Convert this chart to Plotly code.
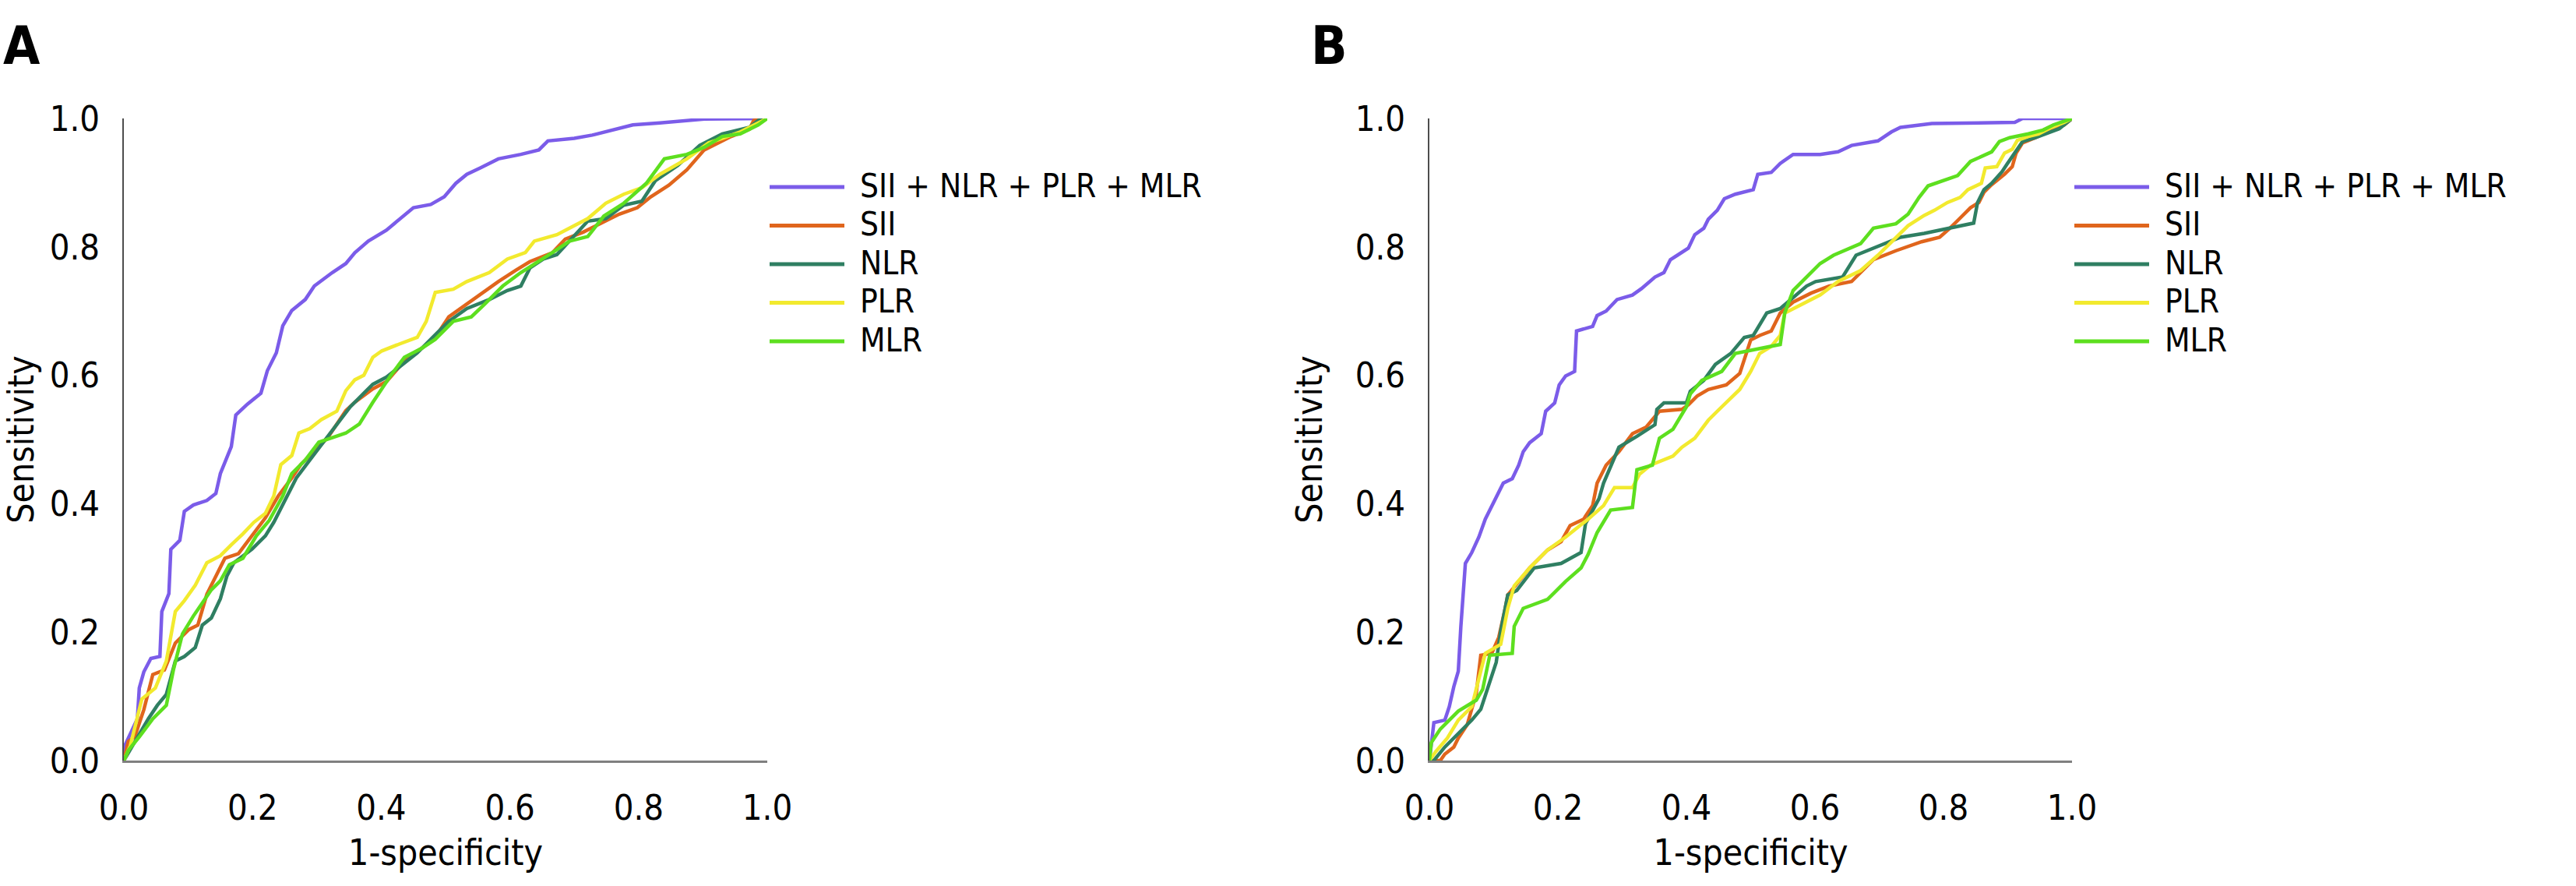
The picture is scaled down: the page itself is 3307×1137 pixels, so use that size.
import plotly.graph_objects as go

# ---------------- data ----------------
SERIES_NAMES = ["SII + NLR + PLR + MLR", "SII", "NLR", "PLR", "MLR"]
SERIES_COLORS = ["#7b5ce9", "#e0651c", "#2f7f62", "#f2ea2e", "#5ddf1f"]
TICK_VALUES = [0.0, 0.2, 0.4, 0.6, 0.8, 1.0]
TICK_LABELS = ["0.0", "0.2", "0.4", "0.6", "0.8", "1.0"]
PANEL_LABELS = ["A", "B"]
X_TITLE = "1-specificity"
Y_TITLE = "Sensitivity"

# Panel A
A_COMB_X = [0, 0.0, 0.021, 0.024, 0.031, 0.042, 0.056, 0.059, 0.07, 0.073, 0.087, 0.094, 0.108, 0.129, 0.143, 0.150, 0.167, 0.174, 0.192, 0.213, 0.223, 0.237, 0.247, 0.261, 0.282, 0.296, 0.324, 0.345, 0.359, 0.380, 0.408, 0.429, 0.450, 0.477, 0.498, 0.516, 0.533, 0.554, 0.582, 0.617, 0.645, 0.659, 0.700, 0.728, 0.763, 0.791, 0.833, 0.902, 1.0]
A_COMB_Y = [0, 0.02, 0.065, 0.113, 0.138, 0.159, 0.162, 0.232, 0.26, 0.329, 0.343, 0.388, 0.398, 0.405, 0.416, 0.447, 0.489, 0.538, 0.555, 0.572, 0.607, 0.635, 0.677, 0.701, 0.718, 0.739, 0.760, 0.774, 0.791, 0.809, 0.826, 0.844, 0.861, 0.866, 0.878, 0.899, 0.913, 0.923, 0.937, 0.944, 0.951, 0.965, 0.969, 0.974, 0.983, 0.990, 0.993, 0.999, 1.0]

A_SII_X = [0, 0.007, 0.017, 0.031, 0.045, 0.063, 0.080, 0.101, 0.115, 0.129, 0.143, 0.157, 0.178, 0.199, 0.220, 0.240, 0.261, 0.275, 0.303, 0.317, 0.345, 0.359, 0.387, 0.408, 0.429, 0.446, 0.463, 0.484, 0.505, 0.533, 0.554, 0.582, 0.610, 0.631, 0.666, 0.686, 0.714, 0.742, 0.770, 0.798, 0.819, 0.847, 0.875, 0.902, 0.944, 0.972, 0.979, 1.0]
A_SII_Y = [0, 0.03, 0.037, 0.079, 0.134, 0.141, 0.183, 0.204, 0.211, 0.259, 0.287, 0.315, 0.322, 0.350, 0.378, 0.412, 0.440, 0.461, 0.489, 0.503, 0.545, 0.558, 0.579, 0.590, 0.614, 0.632, 0.642, 0.659, 0.691, 0.711, 0.725, 0.746, 0.764, 0.777, 0.791, 0.812, 0.823, 0.837, 0.851, 0.861, 0.878, 0.896, 0.920, 0.951, 0.972, 0.983, 0.997, 1.0]

A_NLR_X = [0, 0.017, 0.038, 0.052, 0.066, 0.080, 0.094, 0.111, 0.122, 0.136, 0.150, 0.160, 0.171, 0.199, 0.220, 0.233, 0.251, 0.268, 0.289, 0.310, 0.331, 0.352, 0.373, 0.387, 0.408, 0.429, 0.456, 0.484, 0.505, 0.533, 0.568, 0.596, 0.617, 0.631, 0.652, 0.673, 0.693, 0.721, 0.749, 0.777, 0.805, 0.826, 0.861, 0.895, 0.930, 0.972, 0.986, 1.0]
A_NLR_Y = [0, 0.03, 0.065, 0.086, 0.103, 0.155, 0.162, 0.176, 0.211, 0.222, 0.252, 0.287, 0.308, 0.329, 0.350, 0.371, 0.405, 0.440, 0.468, 0.496, 0.524, 0.551, 0.572, 0.586, 0.597, 0.614, 0.635, 0.663, 0.684, 0.704, 0.718, 0.732, 0.739, 0.767, 0.781, 0.788, 0.809, 0.840, 0.844, 0.865, 0.871, 0.903, 0.927, 0.958, 0.976, 0.986, 0.997, 1.0]

A_PLR_X = [0, 0.010, 0.028, 0.049, 0.066, 0.080, 0.094, 0.111, 0.129, 0.150, 0.167, 0.185, 0.202, 0.220, 0.233, 0.244, 0.261, 0.272, 0.289, 0.307, 0.331, 0.345, 0.359, 0.373, 0.387, 0.401, 0.429, 0.456, 0.470, 0.484, 0.512, 0.533, 0.568, 0.596, 0.624, 0.638, 0.673, 0.697, 0.721, 0.749, 0.777, 0.805, 0.833, 0.875, 0.909, 0.930, 0.958, 1.0]
A_PLR_Y = [0, 0.023, 0.096, 0.113, 0.155, 0.232, 0.249, 0.273, 0.308, 0.319, 0.336, 0.353, 0.371, 0.385, 0.412, 0.461, 0.475, 0.510, 0.517, 0.531, 0.544, 0.576, 0.593, 0.600, 0.628, 0.638, 0.649, 0.659, 0.684, 0.729, 0.734, 0.746, 0.760, 0.781, 0.791, 0.809, 0.819, 0.831, 0.844, 0.868, 0.882, 0.892, 0.913, 0.937, 0.962, 0.969, 0.979, 1.0]

A_MLR_X = [0, 0.007, 0.024, 0.045, 0.066, 0.077, 0.091, 0.108, 0.136, 0.150, 0.164, 0.185, 0.206, 0.226, 0.247, 0.261, 0.282, 0.303, 0.324, 0.345, 0.366, 0.387, 0.415, 0.436, 0.463, 0.484, 0.512, 0.540, 0.561, 0.589, 0.617, 0.645, 0.666, 0.693, 0.721, 0.746, 0.777, 0.812, 0.840, 0.875, 0.902, 0.930, 0.958, 0.986, 1.0]
A_MLR_Y = [0, 0.016, 0.037, 0.065, 0.086, 0.141, 0.197, 0.225, 0.266, 0.280, 0.305, 0.315, 0.350, 0.374, 0.412, 0.447, 0.468, 0.496, 0.503, 0.510, 0.524, 0.558, 0.600, 0.628, 0.642, 0.656, 0.684, 0.691, 0.711, 0.739, 0.760, 0.777, 0.791, 0.809, 0.816, 0.848, 0.868, 0.899, 0.937, 0.944, 0.955, 0.972, 0.976, 0.990, 1.0]

# Panel B
B_COMB_X = [0, 0.003, 0.007, 0.024, 0.031, 0.038, 0.045, 0.049, 0.056, 0.066, 0.077, 0.087, 0.097, 0.108, 0.115, 0.129, 0.139, 0.146, 0.156, 0.174, 0.181, 0.195, 0.202, 0.212, 0.226, 0.229, 0.254, 0.261, 0.275, 0.292, 0.316, 0.330, 0.351, 0.365, 0.375, 0.386, 0.403, 0.413, 0.427, 0.434, 0.448, 0.459, 0.476, 0.504, 0.511, 0.532, 0.546, 0.566, 0.608, 0.636, 0.657, 0.698, 0.719, 0.733, 0.782, 0.911, 0.923, 1.0]
B_COMB_Y = [0, 0.031, 0.059, 0.063, 0.084, 0.115, 0.139, 0.209, 0.307, 0.324, 0.348, 0.376, 0.397, 0.418, 0.432, 0.439, 0.460, 0.481, 0.495, 0.509, 0.544, 0.557, 0.585, 0.599, 0.606, 0.669, 0.676, 0.693, 0.700, 0.718, 0.725, 0.735, 0.753, 0.760, 0.780, 0.787, 0.798, 0.819, 0.829, 0.843, 0.857, 0.875, 0.882, 0.889, 0.913, 0.916, 0.930, 0.944, 0.944, 0.948, 0.958, 0.965, 0.979, 0.986, 0.992, 0.994, 1.0, 1.0]

B_SII_X = [0, 0.017, 0.024, 0.038, 0.045, 0.059, 0.073, 0.080, 0.097, 0.108, 0.118, 0.122, 0.136, 0.156, 0.184, 0.205, 0.219, 0.240, 0.254, 0.261, 0.275, 0.295, 0.316, 0.337, 0.358, 0.393, 0.403, 0.417, 0.434, 0.462, 0.483, 0.500, 0.514, 0.532, 0.546, 0.566, 0.594, 0.622, 0.657, 0.671, 0.691, 0.726, 0.745, 0.766, 0.794, 0.810, 0.826, 0.842, 0.855, 0.863, 0.875, 0.895, 0.907, 0.913, 0.923, 0.943, 0.968, 0.988, 1.0]
B_SII_Y = [0, 0.0, 0.010, 0.021, 0.035, 0.056, 0.105, 0.164, 0.167, 0.192, 0.237, 0.258, 0.275, 0.300, 0.328, 0.341, 0.366, 0.376, 0.397, 0.432, 0.460, 0.481, 0.509, 0.519, 0.544, 0.547, 0.554, 0.568, 0.578, 0.585, 0.603, 0.655, 0.662, 0.669, 0.697, 0.714, 0.728, 0.739, 0.746, 0.760, 0.780, 0.794, 0.800, 0.808, 0.815, 0.829, 0.845, 0.861, 0.869, 0.885, 0.897, 0.913, 0.925, 0.946, 0.962, 0.970, 0.982, 0.990, 1.0]

B_NLR_X = [0, 0.007, 0.024, 0.045, 0.066, 0.080, 0.097, 0.104, 0.111, 0.122, 0.136, 0.163, 0.205, 0.236, 0.243, 0.264, 0.271, 0.295, 0.323, 0.351, 0.354, 0.365, 0.400, 0.406, 0.427, 0.445, 0.469, 0.490, 0.504, 0.525, 0.546, 0.566, 0.587, 0.601, 0.643, 0.664, 0.698, 0.733, 0.770, 0.799, 0.826, 0.847, 0.853, 0.863, 0.875, 0.891, 0.899, 0.911, 0.923, 0.943, 0.960, 0.980, 1.0]
B_NLR_Y = [0, 0.0, 0.021, 0.042, 0.063, 0.080, 0.132, 0.153, 0.202, 0.258, 0.265, 0.300, 0.307, 0.324, 0.369, 0.408, 0.432, 0.488, 0.505, 0.523, 0.547, 0.557, 0.557, 0.575, 0.592, 0.617, 0.634, 0.659, 0.662, 0.697, 0.704, 0.721, 0.739, 0.746, 0.753, 0.787, 0.801, 0.815, 0.821, 0.827, 0.833, 0.837, 0.869, 0.889, 0.899, 0.917, 0.929, 0.946, 0.964, 0.970, 0.976, 0.984, 1.0]

B_PLR_X = [0, 0.010, 0.028, 0.045, 0.066, 0.087, 0.111, 0.122, 0.132, 0.156, 0.184, 0.212, 0.247, 0.271, 0.288, 0.316, 0.327, 0.344, 0.379, 0.393, 0.413, 0.434, 0.448, 0.462, 0.483, 0.500, 0.514, 0.532, 0.546, 0.553, 0.580, 0.608, 0.636, 0.671, 0.698, 0.726, 0.745, 0.770, 0.786, 0.806, 0.826, 0.838, 0.859, 0.865, 0.883, 0.895, 0.907, 0.915, 0.932, 0.948, 0.968, 0.988, 1.0]
B_PLR_Y = [0, 0.014, 0.035, 0.063, 0.084, 0.167, 0.181, 0.237, 0.272, 0.300, 0.328, 0.348, 0.376, 0.397, 0.425, 0.425, 0.446, 0.460, 0.474, 0.488, 0.502, 0.530, 0.544, 0.557, 0.578, 0.606, 0.634, 0.645, 0.662, 0.697, 0.711, 0.725, 0.746, 0.763, 0.787, 0.815, 0.833, 0.849, 0.857, 0.869, 0.877, 0.889, 0.899, 0.923, 0.925, 0.946, 0.952, 0.966, 0.972, 0.976, 0.986, 0.994, 1.0]

B_MLR_X = [0, 0.003, 0.017, 0.045, 0.073, 0.083, 0.094, 0.129, 0.132, 0.146, 0.184, 0.212, 0.236, 0.247, 0.261, 0.282, 0.316, 0.323, 0.347, 0.358, 0.379, 0.400, 0.406, 0.424, 0.455, 0.476, 0.546, 0.553, 0.566, 0.587, 0.608, 0.629, 0.671, 0.691, 0.726, 0.745, 0.762, 0.776, 0.794, 0.822, 0.842, 0.859, 0.875, 0.887, 0.903, 0.932, 0.955, 0.971, 0.988, 1.0]
B_MLR_Y = [0, 0.028, 0.049, 0.077, 0.094, 0.111, 0.164, 0.167, 0.209, 0.237, 0.251, 0.279, 0.300, 0.321, 0.355, 0.390, 0.394, 0.453, 0.460, 0.502, 0.516, 0.551, 0.571, 0.592, 0.606, 0.634, 0.648, 0.697, 0.732, 0.753, 0.774, 0.787, 0.805, 0.829, 0.836, 0.851, 0.877, 0.895, 0.901, 0.911, 0.933, 0.941, 0.948, 0.964, 0.970, 0.976, 0.982, 0.990, 0.996, 1.0]

PANEL_A = [(A_COMB_X, A_COMB_Y), (A_SII_X, A_SII_Y), (A_NLR_X, A_NLR_Y), (A_PLR_X, A_PLR_Y), (A_MLR_X, A_MLR_Y)]
PANEL_B = [(B_COMB_X, B_COMB_Y), (B_SII_X, B_SII_Y), (B_NLR_X, B_NLR_Y), (B_PLR_X, B_PLR_Y), (B_MLR_X, B_MLR_Y)]

# ---------------- layout ----------------
W, H = 3307, 1137
FONT = "DejaVu Sans Condensed, DejaVu Sans, sans-serif"
PLOT_TOP, PLOT_BOTTOM = 152, 976
PANELS_PX = [(159, 985), (1835, 2660)]
LEGEND_Y0, LEGEND_DY = 240, 49.5
LEGEND_FONT = 42

fig = go.Figure()

for p, panel in enumerate([PANEL_A, PANEL_B]):
    xa = "x" if p == 0 else "x2"
    ya = "y" if p == 0 else "y2"
    for i, (xs, ys) in enumerate(panel):
        fig.add_trace(go.Scatter(x=xs, y=ys, mode="lines", name=SERIES_NAMES[i],
                                 line=dict(color=SERIES_COLORS[i], width=4.5),
                                 xaxis=xa, yaxis=ya, showlegend=False))

ydom = [1 - PLOT_BOTTOM / H, 1 - PLOT_TOP / H]
axis_common = dict(range=[0, 1], showgrid=False, zeroline=False, showline=True,
                   ticks="", tickvals=TICK_VALUES, ticktext=TICK_LABELS, automargin=False,
                   tickfont=dict(family=FONT, size=45, color="#000"))

layout = dict(width=W, height=H, margin=dict(l=0, r=0, t=0, b=0, autoexpand=False),
              plot_bgcolor="white", paper_bgcolor="white",
              font=dict(family=FONT, color="#000"))
for p, (l, r) in enumerate(PANELS_PX):
    sx = "" if p == 0 else "2"
    layout["xaxis" + sx] = dict(axis_common, domain=[l / W, r / W], anchor="y" + sx,
                                linecolor="#7f7f7f", linewidth=2.5, ticklabelstandoff=19,
                                title=dict(text=X_TITLE, font=dict(family=FONT, size=46), standoff=17))
    layout["yaxis" + sx] = dict(axis_common, domain=ydom, anchor="x" + sx,
                                linecolor="#4d4d4d", linewidth=2, ticklabelstandoff=20,
                                title=dict(text=Y_TITLE, font=dict(family=FONT, size=46), standoff=28))
fig.update_layout(**layout)

# panel labels
for p, lab in enumerate(PANEL_LABELS):
    xpx = [2, 1681][p]
    fig.add_annotation(text="<b>%s</b>" % lab, xref="paper", yref="paper",
                       x=xpx / W, y=1 - 17 / H, xanchor="left", yanchor="top", showarrow=False,
                       font=dict(family="DejaVu Sans Condensed, Liberation Sans, sans-serif", size=68, color="#000"))

# manual legends (long line samples as in the reference)
for p, (l, r) in enumerate(PANELS_PX):
    for i, name in enumerate(SERIES_NAMES):
        ypx = LEGEND_Y0 + LEGEND_DY * i
        fig.add_shape(type="line", xref="paper", yref="paper",
                      x0=(r + 3) / W, x1=(r + 99) / W, y0=1 - ypx / H, y1=1 - ypx / H,
                      line=dict(color=SERIES_COLORS[i], width=5))
        fig.add_annotation(text=name, xref="paper", yref="paper", x=(r + 118) / W, y=1 - (ypx - 2) / H,
                           xanchor="left", yanchor="middle", showarrow=False, borderpad=0,
                           font=dict(family=FONT, size=LEGEND_FONT, color="#000"))

fig.write_html("out.html")
